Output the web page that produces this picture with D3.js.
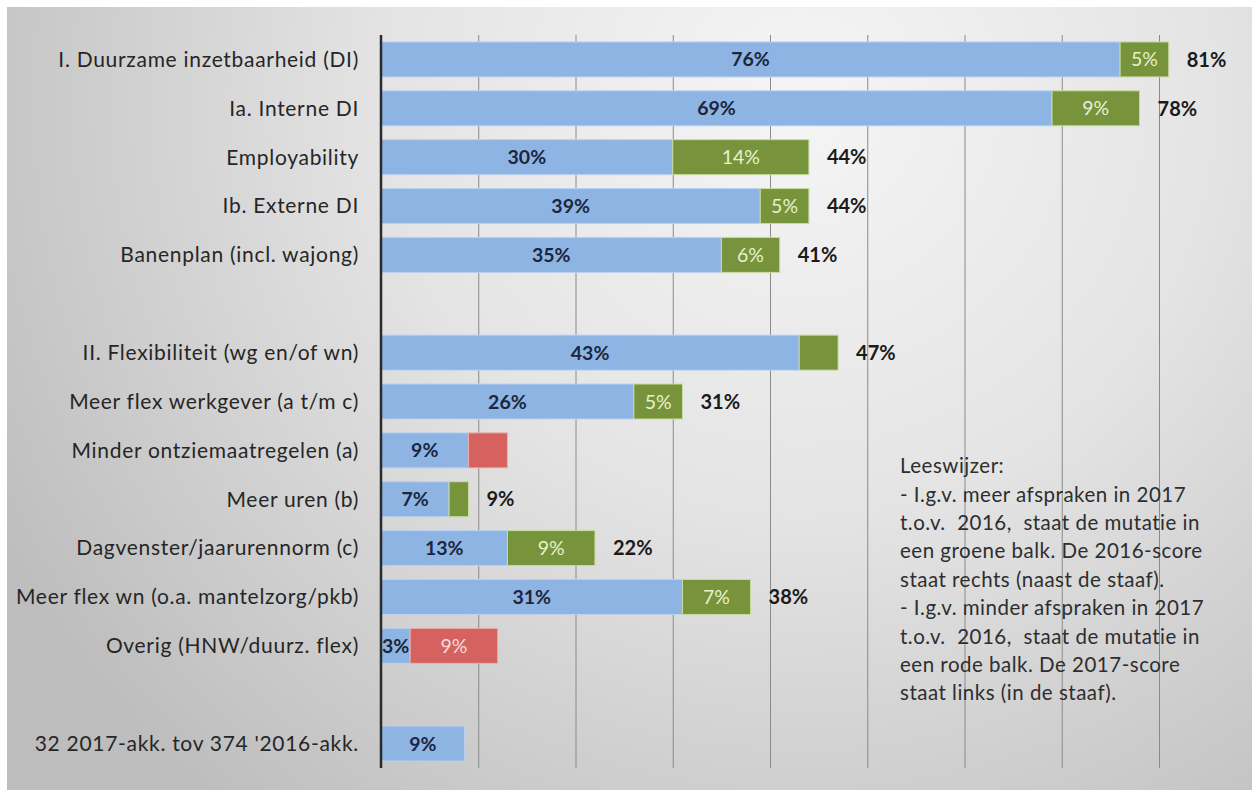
<!DOCTYPE html>
<html>
<head>
<meta charset="utf-8">
<script src="https://cdn.jsdelivr.net/npm/d3@7"></script>
<style>
  html, body { margin: 0; padding: 0; background: #ffffff; }
  svg { display: block; }
  text { font-family: Lato, "Open Sans", sans-serif; }
</style>
</head>
<body>
<svg id="chart" width="1252" height="790"></svg>
<script>
// ---- data ----
const categories = [
  "I. Duurzame inzetbaarheid (DI)",
  "Ia. Interne DI",
  "Employability",
  "Ib. Externe DI",
  "Banenplan (incl. wajong)",
  "",
  "II. Flexibiliteit (wg en/of wn)",
  "Meer flex werkgever (a t/m c)",
  "Minder ontziemaatregelen (a)",
  "Meer uren (b)",
  "Dagvenster/jaarurennorm (c)",
  "Meer flex wn (o.a. mantelzorg/pkb)",
  "Overig (HNW/duurz. flex)",
  "",
  "32 2017-akk. tov 374 '2016-akk."
];
const baseValues     = [76, 69, 30, 39, 35, 0, 43, 26, 9, 7, 13, 31, 3, 0, 8.6];
const increaseValues = [5, 9, 14, 5, 6, 0, 4, 5, 0, 2, 9, 7, 0, 0, 0];
const decreaseValues = [0, 0, 0, 0, 0, 0, 0, 0, 4, 0, 0, 0, 9, 0, 0];
const baseLabels     = ["76%","69%","30%","39%","35%","","43%","26%","9%","7%","13%","31%","3%","","9%"];
const increaseLabels = ["5%","9%","14%","5%","6%","","","5%","","","9%","7%","","",""];
const decreaseLabels = ["","","","","","","","","","","","","9%","",""];
const totalLabels    = ["81%","78%","44%","44%","41%","","47%","31%","","9%","22%","38%","","",""];
const gridTicks = [10, 20, 30, 40, 50, 60, 70, 80];
const legendLines = [
  "Leeswijzer:",
  "- I.g.v. meer afspraken in 2017",
  "t.o.v.  2016,  staat de mutatie in",
  "een groene balk. De 2016-score",
  "staat rechts (naast de staaf).",
  "- I.g.v. minder afspraken in 2017",
  "t.o.v.  2016,  staat de mutatie in",
  "een rode balk. De 2017-score",
  "staat links (in de staaf)."
];

// ---- layout ----
const svg = d3.select("#chart");
const W = 1252, H = 790;
const plot = { left: 381, right: 1159, top: 35, bottom: 768 };

const defs = svg.append("defs");
const grad = defs.append("radialGradient")
  .attr("id", "bg").attr("gradientUnits", "userSpaceOnUse")
  .attr("cx", 800).attr("cy", 100).attr("r", 920);
grad.append("stop").attr("offset", "0%").attr("stop-color", "#f5f5f5");
grad.append("stop").attr("offset", "45%").attr("stop-color", "#e4e4e4");
grad.append("stop").attr("offset", "100%").attr("stop-color", "#bdbdbd");

svg.append("rect").attr("x", 7).attr("y", 7).attr("width", W - 7).attr("height", H - 7)
  .attr("fill", "url(#bg)");

const x = d3.scaleLinear().domain([0, 80]).range([plot.left, plot.right]);
const y = d3.scaleBand().domain(d3.range(categories.length))
  .range([plot.top, plot.bottom]).paddingInner(0.284).paddingOuter(0.142);

// gridlines via axis
const gridAxis = d3.axisBottom(x).tickValues(gridTicks)
  .tickSize(-(plot.bottom - plot.top)).tickFormat("");
const gg = svg.append("g").attr("transform", `translate(0,${plot.bottom})`).call(gridAxis);
gg.select(".domain").remove();
gg.selectAll(".tick line").attr("stroke", "#8a8a8a").attr("stroke-width", 1);

const rows = d3.range(categories.length);

// category labels
svg.append("g").selectAll("text").data(rows).join("text")
  .attr("x", plot.left - 22)
  .attr("y", i => y(i) + y.bandwidth() / 2)
  .attr("dy", "0.35em")
  .attr("text-anchor", "end")
  .attr("font-size", 21)
  .attr("letter-spacing", 0.7)
  .attr("fill", "#262626")
  .text(i => categories[i]);

const BLUE = "#8db4e2", GREEN = "#77933c", RED = "#d5625e";

// base bars
svg.append("g").selectAll("rect").data(rows.filter(i => baseValues[i] > 0)).join("rect")
  .attr("x", x(0))
  .attr("y", i => y(i))
  .attr("width", i => x(baseValues[i]) - x(0))
  .attr("height", y.bandwidth())
  .attr("fill", BLUE)
  .attr("stroke", "#b9d2ef").attr("stroke-width", 1);

// increase bars
svg.append("g").selectAll("rect").data(rows.filter(i => increaseValues[i] > 0)).join("rect")
  .attr("x", i => x(baseValues[i]))
  .attr("y", i => y(i))
  .attr("width", i => x(baseValues[i] + increaseValues[i]) - x(baseValues[i]))
  .attr("height", y.bandwidth())
  .attr("fill", GREEN)
  .attr("stroke", "#c9dca0").attr("stroke-width", 1);

// decrease bars
svg.append("g").selectAll("rect").data(rows.filter(i => decreaseValues[i] > 0)).join("rect")
  .attr("x", i => x(baseValues[i]))
  .attr("y", i => y(i))
  .attr("width", i => x(baseValues[i] + decreaseValues[i]) - x(baseValues[i]))
  .attr("height", y.bandwidth())
  .attr("fill", RED)
  .attr("stroke", "#eab0ae").attr("stroke-width", 1);

// base labels
svg.append("g").selectAll("text").data(rows.filter(i => baseLabels[i])).join("text")
  .attr("x", i => (x(0) + x(baseValues[i])) / 2)
  .attr("y", i => y(i) + y.bandwidth() / 2)
  .attr("dy", "0.36em")
  .attr("text-anchor", "middle")
  .attr("font-size", 19.5).attr("font-weight", "bold")
  .attr("fill", "#1c2640")
  .text(i => baseLabels[i]);

// increase labels
svg.append("g").selectAll("text").data(rows.filter(i => increaseLabels[i])).join("text")
  .attr("x", i => x(baseValues[i] + increaseValues[i] / 2))
  .attr("y", i => y(i) + y.bandwidth() / 2)
  .attr("dy", "0.36em")
  .attr("text-anchor", "middle")
  .attr("font-size", 19.5)
  .attr("fill", "#e6f2cc")
  .text(i => increaseLabels[i]);

// decrease labels
svg.append("g").selectAll("text").data(rows.filter(i => decreaseLabels[i])).join("text")
  .attr("x", i => x(baseValues[i] + decreaseValues[i] / 2))
  .attr("y", i => y(i) + y.bandwidth() / 2)
  .attr("dy", "0.36em")
  .attr("text-anchor", "middle")
  .attr("font-size", 19.5)
  .attr("fill", "#f6dcdb")
  .text(i => decreaseLabels[i]);

// total labels
svg.append("g").selectAll("text").data(rows.filter(i => totalLabels[i])).join("text")
  .attr("x", i => x(baseValues[i] + increaseValues[i]) + 18)
  .attr("y", i => y(i) + y.bandwidth() / 2)
  .attr("dy", "0.36em")
  .attr("text-anchor", "start")
  .attr("font-size", 20).attr("font-weight", "bold")
  .attr("fill", "#1a1a1a")
  .text(i => totalLabels[i]);

// vertical axis line
svg.append("line")
  .attr("x1", x(0)).attr("x2", x(0))
  .attr("y1", plot.top).attr("y2", plot.bottom)
  .attr("stroke", "#2b2b2b").attr("stroke-width", 2.5);

// reading guide
svg.append("g").selectAll("text").data(legendLines).join("text")
  .attr("x", 900)
  .attr("y", (d, i) => 466 + i * 28.4)
  .attr("dy", "0.35em")
  .attr("font-size", 20.5)
  .attr("letter-spacing", 0.5)
  .attr("fill", "#2e2e2e")
  .attr("xml:space", "preserve")
  .text(d => d);
</script>
</body>
</html>
